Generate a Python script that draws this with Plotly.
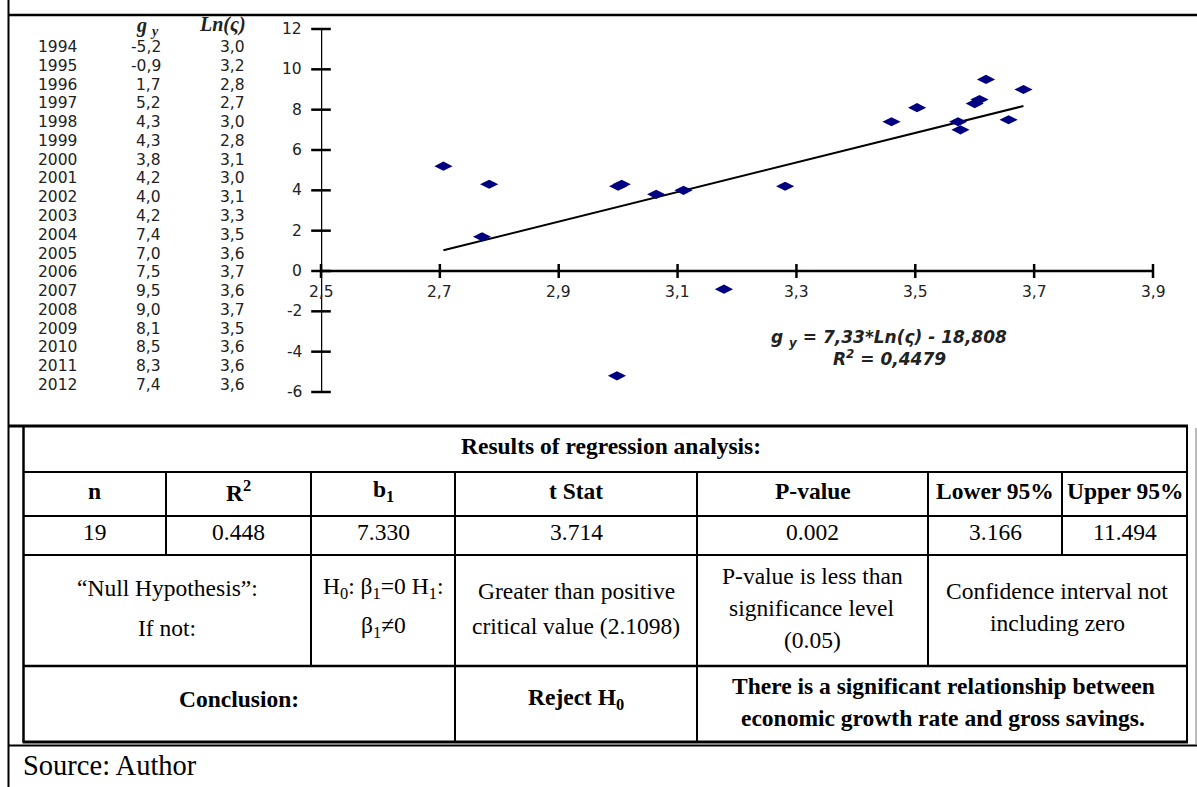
import plotly.graph_objects as go

W, H = 1197, 787

# ---- data -------------------------------------------------------------
years = [1994, 1995, 1996, 1997, 1998, 1999, 2000, 2001, 2002, 2003,
         2004, 2005, 2006, 2007, 2008, 2009, 2010, 2011, 2012]
g_y = [-5.2, -0.9, 1.7, 5.2, 4.3, 4.3, 3.8, 4.2, 4.0, 4.2,
       7.4, 7.0, 7.5, 9.5, 9.0, 8.1, 8.5, 8.3, 7.4]
ln_s = [2.998, 3.178, 2.771, 2.706, 3.006, 2.783, 3.064, 3.000, 3.110, 3.281,
        3.460, 3.576, 3.657, 3.619, 3.682, 3.503, 3.608, 3.600, 3.572]

slope = 7.33
intercept = -18.808
r_squared = 0.4479

x_ticks = [2.5, 2.7, 2.9, 3.1, 3.3, 3.5, 3.7, 3.9]
y_ticks = [-6, -4, -2, 0, 2, 4, 6, 8, 10, 12]

res_header = ["n", "R<sup>2</sup>", "b<sub>1</sub>", "t Stat", "P-value", "Lower 95%", "Upper 95%"]
res_values = ["19", "0.448", "7.330", "3.714", "0.002", "3.166", "11.494"]


def comma(v, nd):
    return f"{v:.{nd}f}".replace(".", ",")


# ---- page geometry helpers (pixels -> paper) ---------------------------
def px(x):
    return x / W


def py(y):
    return 1 - y / H


AX_L, AX_R, AX_T, AX_B = 321, 1153, 29, 392

fig = go.Figure()

# axes drawn inside the data space (x axis crosses at y = 0)
fig.add_trace(go.Scatter(x=[x_ticks[0], x_ticks[-1]], y=[0, 0], mode="lines",
                         line=dict(color="black", width=2.5), hoverinfo="skip", cliponaxis=False))
fig.add_trace(go.Scatter(x=[x_ticks[0], x_ticks[0]], y=[y_ticks[0], y_ticks[-1]], mode="lines",
                         line=dict(color="black", width=2.5), hoverinfo="skip", cliponaxis=False))
fig.add_trace(go.Scatter(x=x_ticks, y=[0] * len(x_ticks), mode="markers",
                         marker=dict(symbol="line-ns", size=10, line=dict(color="black", width=2.5)),
                         hoverinfo="skip", cliponaxis=False))
fig.add_trace(go.Scatter(x=[x_ticks[0]] * len(y_ticks), y=y_ticks, mode="markers",
                         marker=dict(symbol="line-ew", size=14, line=dict(color="black", width=2.5)),
                         hoverinfo="skip", cliponaxis=False))

# fitted trend line
x_fit = [min(ln_s), max(ln_s)]
y_fit = [slope * v + intercept for v in x_fit]
fig.add_trace(go.Scatter(x=x_fit, y=y_fit, mode="lines",
                         line=dict(color="black", width=2), hoverinfo="skip", cliponaxis=False))

# observations
fig.add_trace(go.Scatter(x=ln_s, y=g_y, mode="markers",
                         marker=dict(symbol="diamond-wide", size=13, color="#000080"),
                         text=[str(y) for y in years], cliponaxis=False))

ann = []
tick_font = dict(family="DejaVu Sans", size=15.5, color="#222")
for t in x_ticks:
    ann.append(dict(x=t, y=0, xref="x", yref="y", text=comma(t, 1), showarrow=False,
                    xanchor="center", yanchor="middle", yshift=-21, font=tick_font))
for t in y_ticks:
    ann.append(dict(x=x_ticks[0], y=t, xref="x", yref="y", text=str(t), showarrow=False,
                    xanchor="right", yanchor="middle", xshift=-17, font=tick_font))


def text_at(x, y, text, font, xanchor="center"):
    ann.append(dict(x=px(x), y=py(y), xref="paper", yref="paper", showarrow=False,
                    xanchor=xanchor, yanchor="middle", text=text, font=font))


# equation of the trend line
eq_font = dict(family="DejaVu Sans", size=17, color="#222", weight="bold", style="italic")
text_at(889, 338, f"g <sub>y</sub> = {comma(slope, 2)}*Ln(ς) - {comma(-intercept, 3)}", eq_font)
text_at(889, 358, f"R<sup>2</sup> = {comma(r_squared, 4)}", eq_font)

# small data listing to the left of the chart
list_font = dict(family="DejaVu Sans", size=15.5, color="#222")
hdr_font = dict(family="Liberation Serif", size=20, color="#222", weight="bold", style="italic")
text_at(161, 26, "g <sub>y</sub>", hdr_font, "right")
text_at(222, 25, "Ln(ς)", hdr_font)
row_step = (385 - 47) / (len(years) - 1)
for i, (yr, g, l) in enumerate(zip(years, g_y, ln_s)):
    yy = 47 + i * row_step
    text_at(36, yy, str(yr), list_font, "left")
    text_at(163, yy, comma(g, 1), list_font, "right")
    text_at(247, yy, comma(l, 1), list_font, "right")

# ---- results table -----------------------------------------------------
shapes = []


def hline(y, x0, x1, w=2, color="black"):
    shapes.append(dict(type="line", xref="paper", yref="paper", x0=px(x0), x1=px(x1), y0=py(y), y1=py(y),
                       line=dict(color=color, width=w)))


def vline(x, y0, y1, w=2, color="black"):
    shapes.append(dict(type="line", xref="paper", yref="paper", x0=px(x), x1=px(x), y0=py(y0), y1=py(y1),
                       line=dict(color=color, width=w)))


T_L, T_R = 23.5, 1187
R0, R1, R2, R3, R4, R5 = 426, 472, 516, 555, 666, 742
cols = [T_L, 166, 311, 455, 697, 928, 1062, T_R]

# frame of the page section
vline(8.5, 0, H, 2)
hline(15, 8, W, 2.5)
hline(R0, 8, T_R + 1, 3)
hline(745.5, 8, W, 2)
vline(1196, 428, 745, 1, "#777")

vline(T_L, R0, R5, 2.5)
vline(T_R, R0, R5, 2)
hline(R5, T_L - 1, T_R + 1, 3)
hline(R1, T_L, T_R, 2)
hline(R2, T_L, T_R, 2)
hline(R3, T_L, T_R, 2)
hline(R4, T_L, T_R, 2.5)
for c in cols[1:-1]:
    vline(c, R1, R3, 2)
for c in [311, 455, 697, 928]:
    vline(c, R3, R4, 2)
for c in [455, 697]:
    vline(c, R4, R5, 2)

serif = "Liberation Serif"
f_reg = dict(family=serif, size=23.5, color="black")
f_bold = dict(family=serif, size=23.5, color="black", weight="bold")

text_at((T_L + T_R) / 2 + 6, 446, "Results of regression analysis:", f_bold)
for i, (h, v) in enumerate(zip(res_header, res_values)):
    xc = (cols[i] + cols[i + 1]) / 2
    text_at(xc, 491, h, f_bold)
    text_at(xc, 532, v, f_reg)

text_at(167, 588, "“Null Hypothesis”:", f_reg)
text_at(167, 628, "If not:", f_reg)
text_at(383, 588, "H<sub>0</sub>: β<sub>1</sub>=0 H<sub>1</sub>:", f_reg)
text_at(383, 627, "β<sub>1</sub>≠0", f_reg)
text_at(576, 591, "Greater than positive", f_reg)
text_at(576, 626, "critical value (2.1098)", f_reg)
text_at(812, 576, "P-value is less than", f_reg)
text_at(812, 608, "significance level", f_reg)
text_at(812, 640, "(0.05)", f_reg)
text_at(1057, 591, "Confidence interval not", f_reg)
text_at(1057, 623, "including zero", f_reg)

text_at(239, 699, "Conclusion:", f_bold)
text_at(576, 699, "Reject H<sub>0</sub>", f_bold)
text_at(943, 686, "There is a significant relationship between", f_bold)
text_at(943, 718, "economic growth rate and gross savings.", f_bold)

text_at(21, 765, "Source: Author", dict(family=serif, size=28.5, color="black"), "left")

fig.update_layout(
    width=W, height=H,
    margin=dict(l=0, r=0, t=0, b=0),
    paper_bgcolor="white", plot_bgcolor="white",
    showlegend=False,
    xaxis=dict(domain=[px(AX_L), px(AX_R)], range=[x_ticks[0], x_ticks[-1]],
               showgrid=False, zeroline=False, showticklabels=False, showline=False, ticks=""),
    yaxis=dict(domain=[py(AX_B), py(AX_T)], range=[y_ticks[0], y_ticks[-1]],
               showgrid=False, zeroline=False, showticklabels=False, showline=False, ticks=""),
    annotations=ann,
    shapes=shapes,
)

fig.write_html("out.html")
